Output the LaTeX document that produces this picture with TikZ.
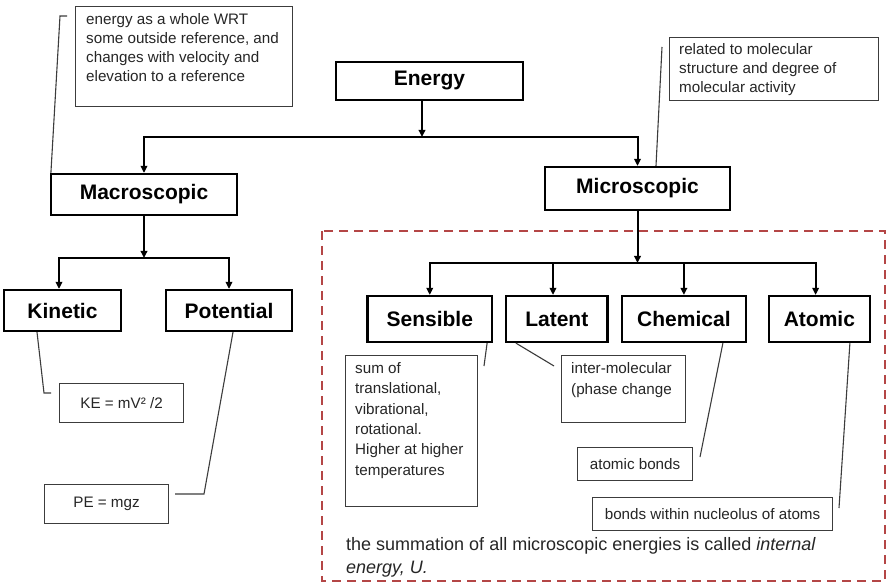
\documentclass[tikz,border=0pt]{standalone}
\usepackage{fontspec}
\setmainfont{Liberation Sans}
\usetikzlibrary{arrows.meta,calc}
\definecolor{dred}{RGB}{180,70,70}
\definecolor{ngray}{RGB}{60,60,60}
\begin{document}
\begin{tikzpicture}[x=1pt,y=-1pt,
  mainbox/.style={draw=black, line width=2.2pt, fill=white, inner sep=0pt,
    font=\fontsize{21}{25}\selectfont\bfseries},
  notebox/.style={draw=ngray, line width=1.1pt, inner sep=0pt, anchor=north west},
  notetext/.style={inner sep=0pt, anchor=north west, align=left,
    font=\fontsize{15.2}{19}\selectfont, text=black!85},
  ctext/.style={inner sep=0pt, font=\fontsize{15.2}{19}\selectfont, text=black!85},
  arr/.style={line width=2pt, draw=black, -{Triangle[length=7pt,width=6.5pt]}},
  conn/.style={draw=ngray, line width=1.1pt},
  redbox/.style={draw=dred, line width=2pt, dash pattern=on 9pt off 6pt},
]
\useasboundingbox (0,0) rectangle (888,585);
\fill[white] (0,0) rectangle (888,585);

% dashed region
\draw[redbox] (322,231) rectangle (885,581);

% main boxes
\node[mainbox, minimum width=187pt, minimum height=38pt] (energy) at (429.5,81) {Energy};
\node[mainbox, minimum width=186pt, minimum height=41pt] (macro) at (144,194.5) {Macroscopic};
\node[mainbox, minimum width=185pt, minimum height=43pt] (micro) at (637.5,188.5) {Microscopic};
\node[mainbox, minimum width=117pt, minimum height=41pt] (kinetic) at (62.5,310.5) {Kinetic};
\node[mainbox, minimum width=126pt, minimum height=41pt] (potential) at (229,310.5) {Potential};
\node[mainbox, minimum width=124.5pt, minimum height=46pt] (sensible) at (429.75,319) {Sensible};
\node[mainbox, minimum width=101.5pt, minimum height=46pt] (latent) at (556.75,319) {Latent};
\node[mainbox, minimum width=124pt, minimum height=46pt] (chemical) at (683.9,319) {Chemical};
\node[mainbox, minimum width=101pt, minimum height=46pt] (atomic) at (819.4,319) {Atomic};

% tree connectors
\coordinate (ebus) at (422,137);
\coordinate (lbus) at (144,258);
\coordinate (rbus) at (637.5,263);
\draw[arr] ([xshift=-7.5pt]energy.south) -- (ebus);
\draw[arr] (ebus) -| (macro.north);
\draw[arr] (ebus) -| (micro.north);
\draw[arr] (macro.south) -- (lbus);
\draw[arr] (lbus) -| ([xshift=-3.5pt]kinetic.north);
\draw[arr] (lbus) -| (potential.north);
\draw[arr] (micro.south) -- (rbus);
\draw[arr] (rbus) -| (sensible.north);
\draw[arr] (rbus) -| ([xshift=-3.75pt]latent.north);
\draw[arr] (rbus) -| (chemical.north);
\draw[arr] (rbus) -| ([xshift=-3.8pt]atomic.north);

% notes
\node[notebox, minimum width=217pt, minimum height=100pt] (note1) at (75,6) {};
\node[notetext] (t1) at (86,13.5) {energy as a whole WRT\\some outside reference, and\\changes with velocity and\\elevation to a reference};
\node[notebox, minimum width=209pt, minimum height=63pt] (note2) at (669,37) {};
\node[notetext] (t2) at (679,43.5) {related to molecular\\structure and degree of\\molecular activity};

\node[notebox, minimum width=124pt, minimum height=39pt] (ke) at (59,383) {};
\node[ctext] at (ke.center) {KE = mV² /2};
\node[notebox, minimum width=124pt, minimum height=39pt] (pe) at (44,484) {};
\node[ctext] at (pe.center) {PE = mgz};

\node[notebox, minimum width=132pt, minimum height=151pt] (snote) at (345,355) {};
\node[notetext, font=\fontsize{15.2}{20.4}\selectfont] (t3) at (355,362) {sum of\\translational,\\vibrational,\\rotational.\\Higher at higher\\temperatures};
\node[notebox, minimum width=124pt, minimum height=67pt] (lnote) at (561,355) {};
\node[notetext, font=\fontsize{15.2}{20.4}\selectfont] (t4) at (571,362.5) {inter-molecular\\(phase change};
\node[notebox, minimum width=115pt, minimum height=33pt] (abonds) at (577,447) {};
\node[ctext] at (abonds.center) {atomic bonds};
\node[notebox, minimum width=240pt, minimum height=33pt] (nucl) at (592,497) {};
\node[ctext] at (nucl.center) {bonds within nucleolus of atoms};

\node[notetext, font=\fontsize{18}{23.5}\selectfont] (sumtext) at (346,537) {the summation of all microscopic energies is called \textit{internal}\\\textit{energy, U.}};

% note connectors
\coordinate (n1end) at (67,16);
\draw[conn] (n1end) -- ++(-7,0) -- ([xshift=1pt]macro.north west);
\coordinate (n2end) at (662,47);
\draw[conn] (n2end) -- ([xshift=18.5pt]micro.north);
\coordinate (keend) at (51,393);
\draw[conn] ([xshift=-25.5pt]kinetic.south) -- (44,393) -- (keend);
\coordinate (peend) at (175,494);
\draw[conn] ([xshift=4pt]potential.south) -- (204,494) -- (peend);
\coordinate (send) at (484,366);
\draw[conn] ([xshift=-6pt]sensible.south east) -- (send);
\coordinate (lend) at (554,366);
\draw[conn] ([xshift=11pt]latent.south west) -- (lend);
\coordinate (cend) at (700,457);
\draw[conn] ([xshift=39pt]chemical.south) -- (cend);
\coordinate (aend) at (839,508);
\draw[conn] ([xshift=30.5pt]atomic.south) -- (aend);
\end{tikzpicture}
\end{document}
